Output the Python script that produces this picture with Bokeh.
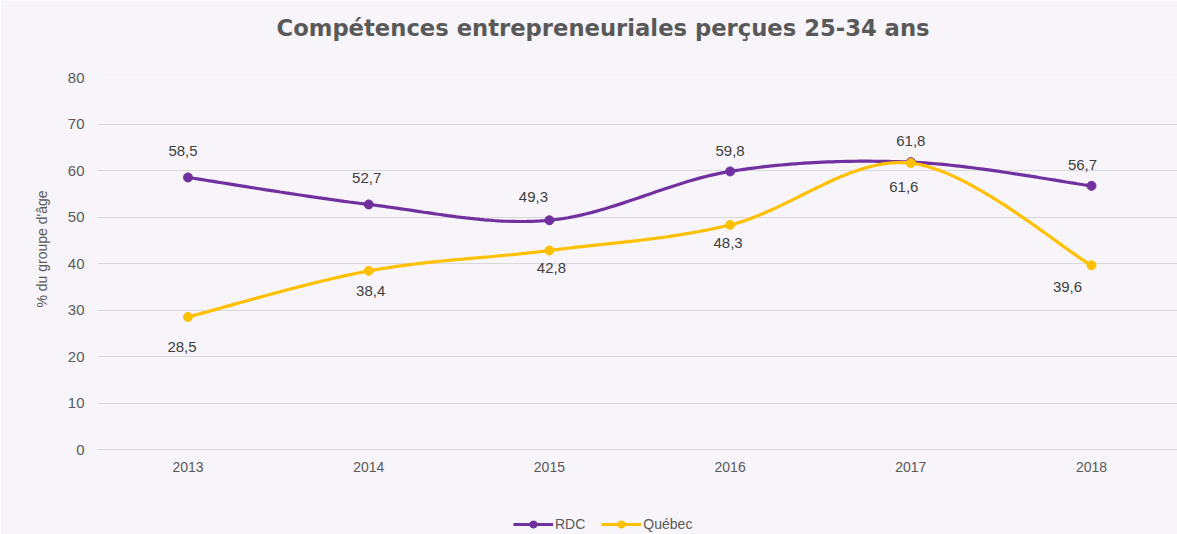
import numpy as np
from bokeh.plotting import figure
from bokeh.models import Range1d, FixedTicker, Legend, LegendItem, ColumnDataSource, Title
from bokeh.core.properties import value
from bokeh.embed import file_html
from bokeh.resources import INLINE

years = [2013, 2014, 2015, 2016, 2017, 2018]
rdc = [58.5, 52.7, 49.3, 59.8, 61.8, 56.7]
quebec = [28.5, 38.4, 42.8, 48.3, 61.6, 39.6]
y_ticks = [0, 10, 20, 30, 40, 50, 60, 70, 80]
year_labels = [str(y) for y in years]

title_text = "Compétences entrepreneuriales perçues 25-34 ans"
y_label = "% du groupe d'âge"

# label placement (screen px offsets)
rdc_dx = [-5, -2, -16, 0, 0, -9]
rdc_dy = [-26, -26, -23, -20, -21, -21]
q_dx = [-6, 2, 2, -2, -7, -24]
q_dy = [30, 20, 18, 18, 24, 22]

PURPLE = "#7030A0"
YELLOW = "#FFC000"
BG = "#f7f5f9"
TXT = "#595959"


def smooth(xs, ys, n=40):
    xs = np.asarray(xs, float)
    ys = np.asarray(ys, float)
    px = np.concatenate([[xs[0]], xs, [xs[-1]]])
    py = np.concatenate([[ys[0]], ys, [ys[-1]]])
    ox, oy = [], []
    for i in range(1, len(px) - 2):
        p0 = np.array([px[i], py[i]])
        p3 = np.array([px[i + 1], py[i + 1]])
        c1 = p0 + (np.array([px[i + 1], py[i + 1]]) - np.array([px[i - 1], py[i - 1]])) / 6
        c2 = p3 - (np.array([px[i + 2], py[i + 2]]) - np.array([px[i], py[i]])) / 6
        t = np.linspace(0, 1, n)[:, None]
        b = (1 - t) ** 3 * p0 + 3 * (1 - t) ** 2 * t * c1 + 3 * (1 - t) * t ** 2 * c2 + t ** 3 * p3
        ox.extend(b[:, 0]); oy.extend(b[:, 1])
    return ox, oy


# frame spans y=77..534 px; 80 units over 372 px -> extend below 0 for tick labels and legend
p = figure(width=1177, height=534, output_backend="svg", toolbar_location=None,
           x_range=Range1d(2013 - 90.5 / 180.7, 2018 + 86 / 180.7),
           y_range=Range1d(-85 * 80 / 372, 80),
           min_border_left=97, min_border_right=0, min_border_top=77, min_border_bottom=0)
p.background_fill_color = BG
p.border_fill_color = BG
p.outline_line_color = None

spacer = Title(text=" ", text_font_size="18px")
p.add_layout(spacer, "above")
t = Title(text=title_text, align="left", text_font="DejaVu Sans", text_font_size="22.7px",
          text_font_style="bold", text_color=TXT, offset=179)
p.add_layout(t, "above")

p.xaxis.visible = False
p.xgrid.grid_line_color = None
p.ygrid.grid_line_color = "#d9d9d9"
p.ygrid.grid_line_width = 1

p.yaxis.ticker = FixedTicker(ticks=y_ticks)
ax = p.yaxis[0]
ax.major_tick_line_color = None
ax.minor_tick_line_color = None
ax.axis_line_color = None
ax.major_label_text_font = "Liberation Sans"
ax.major_label_text_font_size = "15px"
ax.major_label_text_color = TXT
ax.major_label_standoff = 7

ylab = Title(text=y_label, align="left", text_font="Liberation Sans", text_font_size="14px",
             text_font_style="normal", text_color=TXT, offset=227, standoff=30)
p.add_layout(ylab, "left")

# x tick labels under the 0 line
p.text(years, [0] * len(years), text=year_labels, y_offset=17, text_align="center",
       text_baseline="middle", text_font=value("Liberation Sans"), text_font_size="14px",
       text_color=TXT)

sx, sy = smooth(years, rdc)
qx, qy = smooth(years, quebec)
l1 = p.line(sx, sy, line_color=PURPLE, line_width=3.2)
c1 = p.scatter(years, rdc, size=9, color=PURPLE)
l2 = p.line(qx, qy, line_color=YELLOW, line_width=3.2)
c2 = p.scatter(years, quebec, size=9, color=YELLOW)

src_r = ColumnDataSource(dict(x=years, y=rdc, dx=rdc_dx, dy=rdc_dy,
                              t=[f"{v:.1f}".replace(".", ",") for v in rdc]))
src_q = ColumnDataSource(dict(x=years, y=quebec, dx=q_dx, dy=q_dy,
                              t=[f"{v:.1f}".replace(".", ",") for v in quebec]))
for src in (src_r, src_q):
    p.text("x", "y", text="t", source=src, x_offset="dx", y_offset="dy", text_align="center",
           text_baseline="middle", text_font=value("Liberation Sans"), text_font_size="15px",
           text_color="#404040")

legend = Legend(items=[LegendItem(label="RDC", renderers=[l1, c1]),
                       LegendItem(label="Québec", renderers=[l2, c2])],
                orientation="horizontal", location=(416, 1))
legend.background_fill_alpha = 0
legend.border_line_alpha = 0
legend.label_text_font = "Liberation Sans"
legend.label_text_font_size = "14px"
legend.label_text_color = TXT
legend.glyph_width = 40
legend.glyph_height = 18
legend.label_standoff = 2
legend.spacing = 16
legend.padding = 0
legend.margin = 0
p.add_layout(legend, "center")

open("out.html", "w").write(file_html(p, INLINE))
